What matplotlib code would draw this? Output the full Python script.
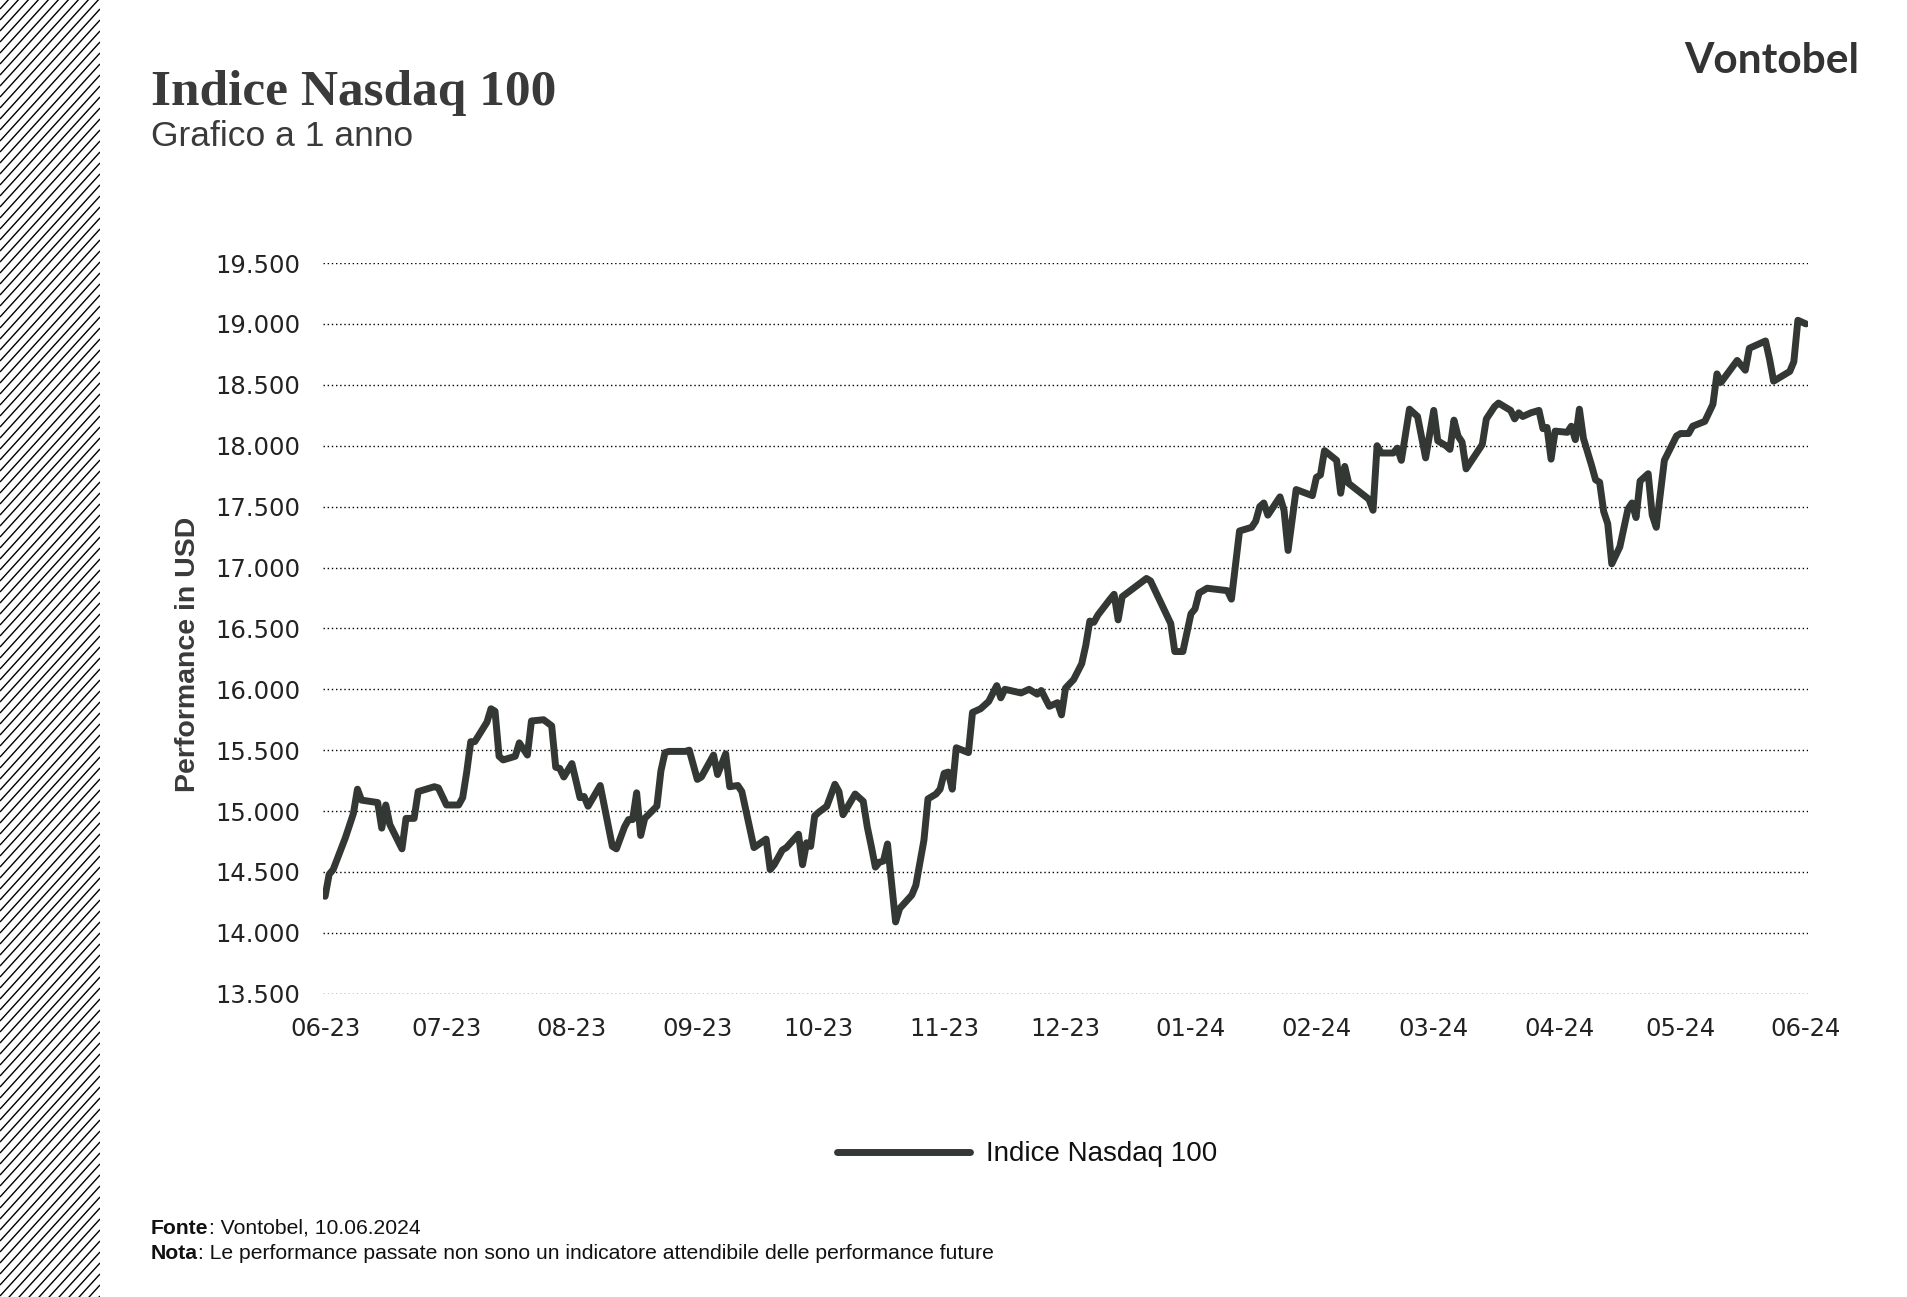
import matplotlib
matplotlib.use("Agg")
import matplotlib.pyplot as plt
import matplotlib.dates as mdates
import numpy as np
import pandas as pd

# Nasdaq 100 index level (days counted from 10.06.2023)
start = pd.Timestamp("2023-06-10")
days = [
    0, 1, 2, 5, 7, 8, 9, 13, 14, 15, 16, 19, 20, 22, 23, 27, 28, 30, 33, 34,
    35, 36, 37, 40, 41, 42, 43, 44, 47, 48, 50, 51, 54, 56, 57, 58, 59, 61, 63, 64,
    65, 68, 71, 72, 74, 75, 76, 77, 78, 79, 82, 83, 84, 85, 89, 90, 92, 93, 96, 97,
    99, 100, 102, 103, 106, 109, 110, 111, 113, 114, 117, 118, 119, 120, 121, 122, 124, 126, 127, 128,
    131, 133, 134, 135, 136, 137, 138, 139, 141, 142, 145, 146, 148, 149, 151, 152, 153, 154, 155, 156,
    159, 160, 162, 164, 166, 167, 168, 172, 174, 176, 177, 179, 181, 182, 183, 185, 187, 188, 189, 190,
    191, 194, 195, 196, 197, 203, 204, 209, 210, 212, 214, 215, 216, 218, 223, 224, 226, 229, 230, 231,
    232, 233, 236, 237, 238, 240, 244, 245, 246, 247, 250, 251, 252, 253, 258, 259, 260, 261, 264, 265,
    266, 268, 270, 272, 274, 275, 277, 278, 279, 280, 281, 282, 286, 287, 289, 290, 293, 294, 295, 296,
    298, 300, 301, 302, 303, 304, 307, 308, 309, 310, 311, 313, 314, 315, 316, 317, 318, 320, 322, 323,
    324, 325, 327, 328, 329, 331, 334, 335, 337, 338, 341, 343, 344, 345, 349, 351, 352, 356, 357, 358,
    362, 363, 364, 366,
]
values = [
    14300, 14480, 14520, 14780, 14980, 15180, 15090, 15070, 14860, 15050, 14890, 14690, 14940, 14940, 15160, 15200, 15190, 15050, 15050, 15110,
    15320, 15570, 15570, 15730, 15840, 15820, 15450, 15420, 15450, 15560, 15460, 15740, 15750, 15700, 15360, 15350, 15280, 15390, 15110, 15120,
    15040, 15210, 14710, 14690, 14870, 14930, 14930, 15150, 14800, 14940, 15040, 15330, 15480, 15490, 15490, 15500, 15260, 15280, 15460, 15300,
    15470, 15200, 15210, 15160, 14700, 14770, 14520, 14560, 14680, 14700, 14810, 14560, 14740, 14710, 14960, 14990, 15040, 15220, 15160, 14970,
    15140, 15080, 14870, 14710, 14540, 14580, 14590, 14730, 14090, 14200, 14310, 14390, 14760, 15100, 15140, 15180, 15310, 15320, 15180, 15520,
    15480, 15810, 15840, 15900, 16030, 15930, 16000, 15970, 16000, 15960, 15990, 15860, 15890, 15790, 16010, 16080, 16210, 16360, 16560, 16550,
    16610, 16740, 16780, 16570, 16760, 16910, 16890, 16540, 16310, 16310, 16620, 16660, 16790, 16830, 16810, 16740, 17300, 17330, 17380, 17500,
    17530, 17430, 17580, 17470, 17140, 17640, 17590, 17740, 17760, 17960, 17880, 17610, 17830, 17690, 17560, 17470, 18000, 17940, 17940, 17980,
    17880, 18300, 18240, 17900, 18290, 18040, 18000, 17970, 18210, 18080, 18030, 17810, 18010, 18220, 18320, 18350, 18290, 18220, 18270, 18240,
    18270, 18290, 18140, 18150, 17890, 18120, 18110, 18160, 18050, 18300, 18060, 17840, 17720, 17700, 17460, 17360, 17030, 17170, 17480, 17530,
    17410, 17710, 17770, 17430, 17330, 17880, 18080, 18100, 18100, 18160, 18200, 18340, 18590, 18520, 18700, 18620, 18800, 18860, 18710, 18530,
    18610, 18690, 19030, 19000,
]
y_ticks = [13500, 14000, 14500, 15000, 15500, 16000, 16500, 17000, 17500, 18000, 18500, 19000, 19500]
series_name = "Indice Nasdaq 100"

dates = start + pd.to_timedelta(days, unit="D")
month_ticks = pd.date_range("2023-06-10", "2024-06-10", freq="MS") + pd.Timedelta(days=9)
month_ticks = [start] + [d for d in month_ticks if d > start]

W, H = 1907, 1297
fig = plt.figure(figsize=(W / 100, H / 100), dpi=100)
fig.patch.set_facecolor("white")

# hatched band on the left
hx = fig.add_axes([0, 0, 100 / W, 1])
hx.set_xlim(0, 100)
hx.set_ylim(0, H)
hx.axis("off")
for c in np.arange(-120, H + 10, 11):
    hx.plot([0, 100], [c, c + 110], color="black", lw=1.0, solid_capstyle="butt")

ax = fig.add_axes([0.1692, 0.2338, 0.9483 - 0.1692, 0.7972 - 0.2338])
line_col = "#333835"
ax.plot(dates, values, color=line_col, lw=5.0, solid_joinstyle="round",
        solid_capstyle="round", label=series_name)

ax.set_ylim(13500, 19500)
ax.set_xlim(start - pd.Timedelta(days=0.6), pd.Timestamp("2024-06-10") + pd.Timedelta(days=0.6))
for v in y_ticks:
    ax.axhline(v, color="black", lw=1.0, ls=(0, (1, 2)), zorder=0)
for s in ax.spines.values():
    s.set_visible(False)
ax.set_yticks(y_ticks)
ax.set_yticklabels([f"{v:,}".replace(",", ".") for v in y_ticks],
                   fontfamily="DejaVu Sans", fontsize=17.5, color="#222222")
ax.set_xticks(month_ticks)
ax.xaxis.set_major_formatter(mdates.DateFormatter("%m-%y"))
for t in ax.get_xticklabels():
    t.set_fontfamily("DejaVu Sans")
    t.set_fontsize(17.5)
    t.set_color("#222222")
ax.tick_params(axis="y", length=0, pad=16)
ax.tick_params(axis="x", length=0, pad=17)
ax.set_ylabel("Performance in USD", fontfamily="Liberation Sans", fontweight="bold",
              fontsize=20.5, color="#3a3a3a")
ax.yaxis.set_label_coords(-0.082, 0.464)

# titles and logo
fig.text(0.0792, 0.9192, "Indice Nasdaq 100", fontfamily="Liberation Serif",
         fontweight="bold", fontsize=37, color="#3a3a3a", va="baseline")
fig.text(0.0792, 0.8873, "Grafico a 1 anno", fontfamily="Liberation Sans",
         fontsize=25.5, color="#3a3a3a", va="baseline")
fig.text(0.9751, 0.9437, "Vontobel", fontfamily="Lato", fontweight="bold",
         fontsize=30.5, color="#333333", ha="right", va="baseline")

leg = fig.legend(loc="center", bbox_to_anchor=(0.5385, 0.1100), frameon=False,
                 prop={"family": "Liberation Sans", "size": 20},
                 handlelength=4.8, handletextpad=0.55)
for t in leg.get_texts():
    t.set_color("#111111")

# footer with bold labels
renderer = fig.canvas.get_renderer()
for y, bold, rest in [(0.0488, "Fonte", ": Vontobel, 10.06.2024"),
                      (0.0291, "Nota", ": Le performance passate non sono un indicatore attendibile delle performance future")]:
    t = fig.text(0.0792, y, bold, fontfamily="Liberation Sans", fontweight="bold",
                 fontsize=15.2, color="#111111", va="baseline")
    bb = t.get_window_extent(renderer)
    fig.text(bb.x1 / W, y, rest, fontfamily="Liberation Sans", fontsize=15.2,
             color="#111111", va="baseline")

fig.savefig("out.png", dpi=100)
